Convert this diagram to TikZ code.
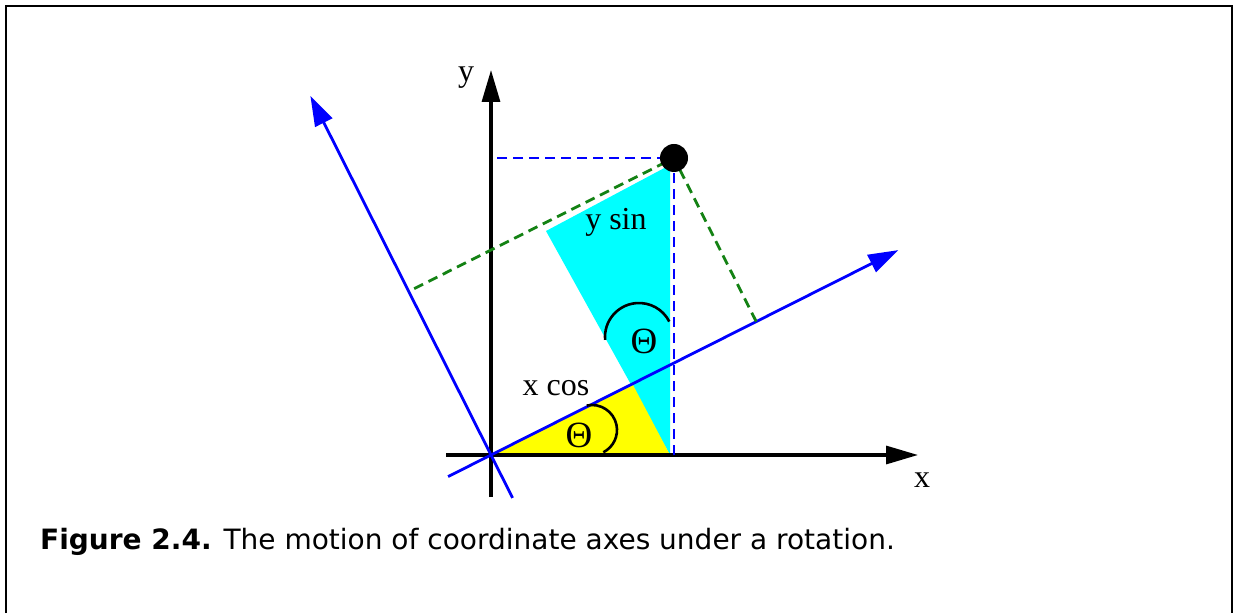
\documentclass[tikz,border=0pt]{standalone}
\usepackage{fontspec}
\setmainfont{Liberation Serif}
\newfontfamily\capfont{DejaVu Sans}
\usetikzlibrary{arrows.meta, calc}
\definecolor{aqua}{RGB}{0,255,255}
\definecolor{lemon}{RGB}{255,255,0}
\definecolor{projgreen}{RGB}{20,130,20}

\begin{document}
\begin{tikzpicture}[x=1pt,y=1pt,
    axis/.style={line width=3.2pt,-{Triangle[length=32pt,width=18pt]}},
    rotaxis/.style={blue,line width=2.8pt,-{Triangle[length=30pt,width=19pt]}},
    dashblue/.style={blue,line width=2.8pt,dash pattern=on 10pt off 6pt},
    dashgreen/.style={projgreen,line width=2.8pt,dash pattern=on 10pt off 6pt},
    lab/.style={font=\fontsize{32}{38}\selectfont,inner sep=0pt},
    ang/.style={font=\fontsize{37}{42}\selectfont,inner sep=0pt}]
  \useasboundingbox (-491,-158) rectangle (742,455);
  % frame round the figure
  \draw[line width=1.8pt] (-485,-158) -- (-485,449) -- (741,449) -- (741,-158);
  \coordinate (O) at (0,0);
  \coordinate (P) at (183,297);
  \coordinate (xr) at (26.7:456);
  \coordinate (yr) at (116.7:402);
  % shaded triangles
  \fill[aqua] (55,224) -- (179,290) -- (179,0) -- cycle;
  \fill[lemon] (O) -- (179,0) -- (142,70) -- cycle;
  % fixed axes
  \draw[axis] (-45,0) -- (427,0);
  \draw[axis] (0,-42) -- (0,385);
  \node[lab] (xlab) at (431,-25) {x};
  \node[lab] (ylab) at (-25,377) {y};
  % rotated axes
  \draw[rotaxis] (206.7:48) -- (xr);
  \draw[rotaxis] (296.7:48) -- (yr);
  % projections
  \draw[dashgreen] ($(O)!(P)!(xr)$) -- (P) -- ($(O)!(P)!(yr)$);
  \draw[dashblue] (P |- O) -- (P) -- (O |- P);
  \fill (P) circle (14);
  % angle marks
  \draw[line width=2.6pt] (101,25) ++(102:25) arc[start angle=102,end angle=-63,radius=25];
  \draw[line width=2.6pt] (148,118) ++(185:34) arc[start angle=185,end angle=27,radius=34];
  \node[ang] (th1) at (88,20) {Θ};
  \node[ang] (th2) at (153,114) {Θ};
  \node[lab] (xcos) at (65,67) {x cos};
  \node[lab] (ysin) at (125,233) {y sin};
  % caption
  \node[anchor=base west,inner sep=0pt,font=\capfont\fontsize{28}{34}\selectfont] (cap) at (-451,-94)
    {\textbf{Figure 2.4.} The motion of coordinate axes under a rotation.};
\end{tikzpicture}
\end{document}
